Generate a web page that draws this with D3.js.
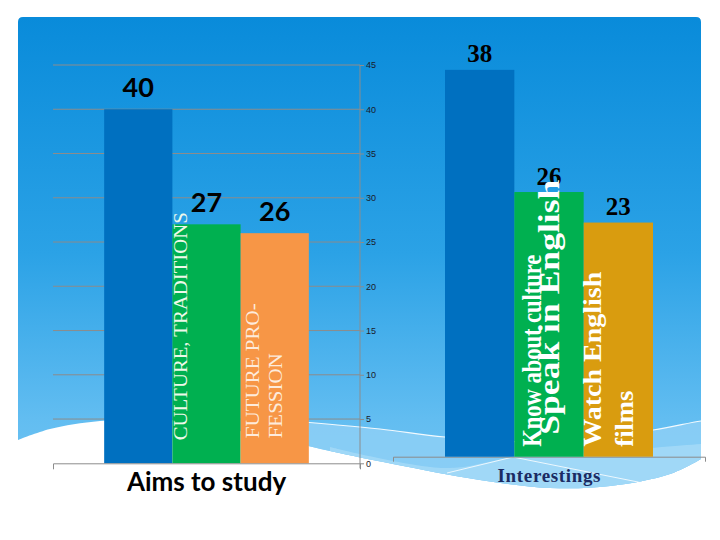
<!DOCTYPE html>
<html>
<head>
<meta charset="utf-8">
<script src="https://cdn.jsdelivr.net/npm/d3@7/dist/d3.min.js"></script>
<style>
  html, body { margin: 0; padding: 0; background: #ffffff; }
  svg { display: block; }
</style>
</head>
<body>
<svg id="chart" width="720" height="540"></svg>
<script>
// ---------------- DATA ----------------
const categories1 = ["Aims to study"];
const series1 = ["s1", "s2", "s3"];
const values1 = [40, 27, 26];
const barLabels1 = [[], ["CULTURE, TRADITIONS"], ["FUTURE PRO-", "FESSION"]];
const ticks1 = [0, 5, 10, 15, 20, 25, 30, 35, 40, 45];

const categories2 = ["Interestings"];
const series2 = ["s1", "s2", "s3"];
const values2 = [38, 26, 23];
const barLabels2 = [[], ["Know about culture", "Speak in English"], ["Watch English", "films"]];

// ---------------- STYLES ----------------
const barColors1 = ["#0070C0", "#00B050", "#F79646"];
const barColors2 = ["#0070C0", "#00B050", "#D99C0F"];
// per label line: [dx from bar left, dy above baseline, font size, text length, colour]
const labelStyle1 = [[], [[14.5, 23, 19, 228, "#EEF8EA"]],
  [[18, 25, 19, 135, "#FDEBDC"], [41.5, 25, 19, 85, "#FDEBDC"]]];
const labelStyle2 = [[], [[26.5, 10, 27, 192, "#ffffff"], [45, 22, 30, 255, "#ffffff"]],
  [[17.5, 10, 25, 175, "#ffffff"], [49, 10, 26, 56, "#ffffff"]]];

const svg = d3.select("#chart");
const defs = svg.append("defs");

// ---------------- BACKGROUND ----------------
const grad = defs.append("linearGradient").attr("id", "bg")
  .attr("gradientUnits", "userSpaceOnUse").attr("x1", 0).attr("y1", 17).attr("x2", 0).attr("y2", 490);
[[0, "#098BDA"], [0.5, "#2BA2E6"], [0.85, "#62BDF1"], [1, "#72C5F3"]]
  .forEach(([o, c]) => grad.append("stop").attr("offset", o).attr("stop-color", c));

const bottomPts = [[701, 459], [670, 474], [610, 486], [550, 488], [480, 480], [393, 464],
  [330, 451], [250, 433], [170, 420], [100, 421], [50, 429], [18, 440]];
const curve = d3.line().curve(d3.curveCatmullRom);
const bottomPath = curve(bottomPts).replace(/^M/, "L");
const panelD = "M18,22Q18,17 23,17H696Q701,17 701,22" + bottomPath + "Z";

defs.append("clipPath").attr("id", "panelClip").append("path").attr("d", panelD);
svg.append("path").attr("d", panelD).attr("fill", "url(#bg)");

const deco = svg.append("g").attr("clip-path", "url(#panelClip)");
const band1Top = [[280, 420], [380, 429], [445, 437], [550, 442], [653, 430], [701, 421], [720, 419]];
deco.append("path")
  .attr("d", curve(band1Top) + "L720,540L280,540Z")
  .attr("fill", "#8DCFF6").attr("opacity", 0.85);
deco.append("path").attr("d", curve(band1Top))
  .attr("fill", "none").attr("stroke", "#ffffff").attr("stroke-width", 1.2).attr("opacity", 0.9);
const band2Top = [[330, 447], [445, 468], [515, 457], [600, 452], [701, 444], [720, 443]];
deco.append("path")
  .attr("d", curve(band2Top) + "L720,540L330,540Z")
  .attr("fill", "#A6DBF8").attr("opacity", 0.8);
deco.append("path").attr("d", "M447,473L513,457L643,483")
  .attr("fill", "none").attr("stroke", "#ffffff").attr("stroke-width", 1).attr("opacity", 0.8);

// ---------------- CHART 1 ----------------
const y1 = d3.scaleLinear().domain([0, 45]).range([463.3, 65]);
const x1 = d3.scaleBand().domain(categories1).range([53, 360]).paddingInner(0).paddingOuter(0.25);
const xs1 = d3.scaleBand().domain(series1).range([0, x1.bandwidth()]).padding(0);

const g1 = svg.append("g");
// gridlines
g1.append("g").selectAll("line").data(ticks1.slice(1)).join("line")
  .attr("x1", 53).attr("x2", 360)
  .attr("y1", d => y1(d)).attr("y2", d => y1(d))
  .attr("stroke", "#8C8C8C").attr("stroke-width", 1);

// bars
const cat1 = categories1[0];
g1.append("g").selectAll("rect").data(values1).join("rect")
  .attr("x", (d, i) => x1(cat1) + xs1(series1[i]))
  .attr("width", xs1.bandwidth())
  .attr("y", d => y1(d))
  .attr("height", d => y1(0) - y1(d))
  .attr("fill", (d, i) => barColors1[i]);

// value labels
g1.append("g").selectAll("text").data(values1).join("text")
  .attr("x", (d, i) => x1(cat1) + xs1(series1[i]) + xs1.bandwidth() / 2)
  .attr("y", d => y1(d) - 12)
  .attr("text-anchor", "middle")
  .attr("font-family", "Lato, 'Open Sans', sans-serif")
  .attr("font-weight", "bold")
  .attr("font-size", 27)
  .attr("fill", "#000")
  .text(d => d);

// rotated in-bar labels
barLabels1.forEach((lines, i) => {
  lines.forEach((txt, j) => {
    const st = labelStyle1[i][j];
    const bx = x1(cat1) + xs1(series1[i]);
    g1.append("text")
      .attr("transform", `translate(${bx + st[0]},${y1(0) - st[1]}) rotate(-90)`)
      .attr("font-family", "'Liberation Serif', 'Times New Roman', serif")
      .attr("font-size", st[2])
      .attr("textLength", st[3])
      .attr("lengthAdjust", "spacingAndGlyphs")
      .attr("fill", st[4])
      .text(txt);
  });
});

// right axis
const axis1 = g1.append("g").attr("transform", "translate(360,0)")
  .call(d3.axisRight(y1).tickValues(ticks1).tickSize(4).tickSizeOuter(0).tickPadding(2));
axis1.select(".domain").remove();
axis1.selectAll(".tick line").attr("stroke", "#8C8C8C");
axis1.selectAll(".tick text")
  .attr("font-family", "'Liberation Sans', Arial, sans-serif")
  .attr("font-size", 9).attr("fill", "#1a1a2a");
g1.append("line").attr("x1", 360).attr("x2", 360).attr("y1", y1(45)).attr("y2", y1(0) + 5)
  .attr("stroke", "#8C8C8C");

// bottom axis
const xAxis1 = g1.append("g").attr("transform", `translate(0,${y1(0)})`)
  .call(d3.axisBottom(x1).tickSize(0).tickSizeOuter(6).tickPadding(0));
xAxis1.select(".domain").attr("stroke", "#8C8C8C");
xAxis1.selectAll(".tick text")
  .attr("y", 28).attr("dy", 0)
  .attr("font-family", "Lato, 'Open Sans', sans-serif")
  .attr("font-weight", "bold")
  .attr("font-size", 26).attr("fill", "#000");

// ---------------- CHART 2 ----------------
const y2 = d3.scaleLinear().domain([0, 40]).range([456.7, 49.5]);
const x2 = d3.scaleBand().domain(categories2).range([393, 705]).paddingInner(0).paddingOuter(0.25);
const xs2 = d3.scaleBand().domain(series2).range([0, x2.bandwidth()]).padding(0);
const cat2 = categories2[0];
const g2 = svg.append("g");

const xAxis2 = g2.append("g").attr("transform", `translate(0,${y2(0)})`)
  .call(d3.axisBottom(x2).tickSize(0).tickSizeOuter(5).tickPadding(0));
xAxis2.select(".domain").attr("stroke", "#8C8C8C");
xAxis2.selectAll(".tick text")
  .attr("y", 25).attr("dy", 0)
  .attr("font-family", "'Liberation Serif', 'Times New Roman', serif")
  .attr("font-weight", "bold")
  .attr("font-size", 19)
  .attr("textLength", 103).attr("lengthAdjust", "spacing")
  .attr("fill", "#1B2B63");

g2.append("g").selectAll("rect").data(values2).join("rect")
  .attr("x", (d, i) => x2(cat2) + xs2(series2[i]))
  .attr("width", xs2.bandwidth())
  .attr("y", d => y2(d))
  .attr("height", d => y2(0) - y2(d))
  .attr("fill", (d, i) => barColors2[i]);

g2.append("g").selectAll("text").data(values2).join("text")
  .attr("x", (d, i) => x2(cat2) + xs2(series2[i]) + xs2.bandwidth() / 2)
  .attr("y", d => y2(d) - 7.5)
  .attr("text-anchor", "middle")
  .attr("font-family", "'Liberation Serif', 'Times New Roman', serif")
  .attr("font-weight", "bold")
  .attr("font-size", 25)
  .attr("fill", "#000")
  .text(d => d);

barLabels2.forEach((lines, i) => {
  lines.forEach((txt, j) => {
    const st = labelStyle2[i][j];
    const bx = x2(cat2) + xs2(series2[i]);
    g2.append("text")
      .attr("transform", `translate(${bx + st[0]},${y2(0) - st[1]}) rotate(-90)`)
      .attr("font-family", "'Liberation Serif', 'Times New Roman', serif")
      .attr("font-weight", "bold")
      .attr("font-size", st[2])
      .attr("textLength", st[3])
      .attr("lengthAdjust", "spacingAndGlyphs")
      .attr("fill", st[4])
      .text(txt);
  });
});
</script>
</body>
</html>
